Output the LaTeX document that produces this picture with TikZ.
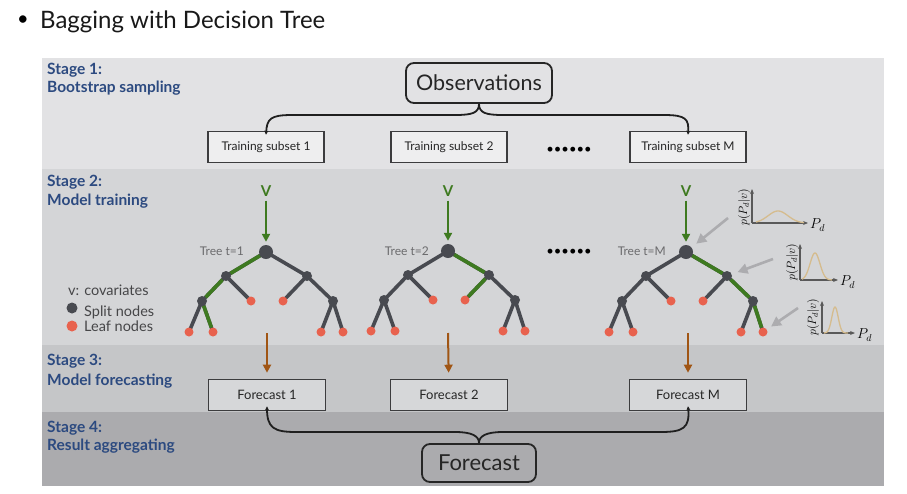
\documentclass[tikz,border=0pt]{standalone}
\usepackage{fontspec}
\setmainfont{Lato}
\usetikzlibrary{arrows.meta,calc}
\pgfdeclarelayer{bg}
\pgfdeclarelayer{edges}
\pgfsetlayers{bg,edges,main}
\definecolor{bandA}{RGB}{226,226,228}
\definecolor{bandB}{RGB}{212,213,215}
\definecolor{bandC}{RGB}{197,198,200}
\definecolor{bandD}{RGB}{171,171,174}
\definecolor{stageblue}{RGB}{44,74,128}
\definecolor{boxline}{RGB}{60,60,62}
\definecolor{treegray}{RGB}{72,74,80}
\definecolor{leafred}{RGB}{232,98,78}
\definecolor{greenc}{RGB}{62,122,32}
\definecolor{brownc}{RGB}{160,85,20}
\definecolor{arrowgray}{RGB}{172,172,175}
\definecolor{curvetan}{RGB}{213,188,142}
\definecolor{textgray}{RGB}{70,70,72}
\newcommand{\mktree}[3]{%
  \node[rootn]  (#1r)   at (#2,#3) {};
  \node[splitn] (#1L)   at ({#2-40},{#3+24}) {};
  \node[splitn] (#1R)   at ({#2+41},{#3+24}) {};
  \node[splitn] (#1LL)  at ({#2-64},{#3+49}) {};
  \node[leafn]  (#1LR)  at ({#2-15},{#3+49}) {};
  \node[leafn]  (#1RL)  at ({#2+17},{#3+49}) {};
  \node[splitn] (#1RR)  at ({#2+67},{#3+49}) {};
  \node[leafn]  (#1LLa) at ({#2-77},{#3+80}) {};
  \node[leafn]  (#1LLb) at ({#2-53},{#3+80}) {};
  \node[leafn]  (#1RRa) at ({#2+55},{#3+80}) {};
  \node[leafn]  (#1RRb) at ({#2+77},{#3+80}) {};
  \begin{pgfonlayer}{edges}
  \foreach \a/\b in {r/L,r/R,L/LL,L/LR,R/RL,R/RR,LL/LLa,LL/LLb,RR/RRa,RR/RRb}
    \draw[edge] (#1\a.center) -- (#1\b.center);
  \end{pgfonlayer}
}
\begin{document}
\begin{tikzpicture}[x=1pt,y=-1pt,
  stagelbl/.style={anchor=base west,text=stageblue,font=\bfseries\fontsize{15.5}{18}\selectfont,inner sep=0},
  subbox/.style={draw=boxline,line width=1.6,fill=bandA!60!white,minimum width=116,minimum height=31,inner sep=0,font=\fontsize{12}{13}\selectfont,text=black!85},
  fcbox/.style={draw=boxline,line width=1.6,fill=bandC!70!white,minimum width=117,minimum height=31,inner sep=0,font=\fontsize{13}{14}\selectfont,text=black!85},
  roundbox/.style={draw=black!85,line width=1.8,rounded corners=8,inner sep=0,text=black!85},
  brace/.style={draw=black!88,line width=1.8},
  rootn/.style={circle,fill=treegray,minimum size=14,inner sep=0},
  splitn/.style={circle,fill=treegray,minimum size=10,inner sep=0},
  leafn/.style={circle,fill=leafred,minimum size=9,inner sep=0},
  edge/.style={draw=treegray,line width=3.6,line cap=round},
  gedge/.style={draw=greenc,line width=3.6},
  varlbl/.style={text=greenc,font=\bfseries\fontsize{15}{16}\selectfont,inner sep=0},
  garrow/.style={draw=greenc,line width=2,-{Triangle[length=8,width=8]}},
  barrow/.style={draw=brownc,line width=2,-{Triangle[length=8,width=8]}},
  grarrow/.style={draw=arrowgray,line width=2.6,-{Triangle[length=10,width=10]}},
  treelbl/.style={anchor=east,text=textgray!80,font=\fontsize{12}{14}\selectfont,inner sep=0},
  legtxt/.style={anchor=base west,text=textgray,font=\fontsize{14.5}{16}\selectfont,inner sep=0},
  axis/.style={draw=black!65,line width=1.1,-{Stealth[length=5,width=4]}},
  dens/.style={draw=curvetan,line width=1.3},
  pdlbl/.style={anchor=west,inner sep=0,font=\fontsize{14}{16}\selectfont},
  pylbl/.style={rotate=90,inner sep=0,font=\fontsize{11.5}{13}\selectfont},
  dots/.style={font=\fontsize{13}{14}\selectfont,inner sep=0}
]
\useasboundingbox (0,0) rectangle (907,493);
\begin{pgfonlayer}{bg}
\fill[white] (0,0) rectangle (907,493);
\fill[bandA] (42,58) rectangle (884,169);
\fill[bandB] (42,169) rectangle (884,345);
\fill[bandC] (42,345) rectangle (884,412);
\fill[bandD] (42,412) rectangle (884,486);
\end{pgfonlayer}

% title
\node[inner sep=0,font=\fontsize{20}{22}\selectfont] (bul) at (23,21) {•};
\node[anchor=base west,inner sep=0,font=\fontsize{24}{26}\selectfont,text=black!90] (title) at (40,28) {Bagging with Decision Tree};

% stage labels
\node[stagelbl] (s1a) at (47,74) {Stage 1:};
\node[stagelbl] (s1b) at (47,92) {Bootstrap sampling};
\node[stagelbl] (s2a) at (47,186) {Stage 2:};
\node[stagelbl] (s2b) at (47,205) {Model training};
\node[stagelbl] (s3a) at (47,365) {Stage 3:};
\node[stagelbl] (s3b) at (47,385) {Model forecasting};
\node[stagelbl] (s4a) at (47,432) {Stage 4:};
\node[stagelbl] (s4b) at (47,450) {Result aggregating};

% stage 1
\node[roundbox,minimum width=146,minimum height=40,font=\fontsize{21.5}{24}\selectfont] (obs) at (479,83) {Observations};
\node[subbox] (ts1) at (266,147) {Training subset 1};
\node[subbox] (ts2) at (449,147) {Training subset 2};
\node[subbox] (tsM) at (688,147) {Training subset M};
\node[dots] (dots1) at (569,150) {••••••};
\draw[brace,-{Stealth[length=4,width=4]}] (obs.south) .. controls (479,113) and (472,115) .. (455,115) -- (292,115) .. controls (270,115) and (267,119) .. ([yshift=-4]ts1.north);
\draw[brace,-{Stealth[length=4,width=4]}] (obs.south) .. controls (479,113) and (486,115) .. (503,115) -- (664,115) .. controls (686,115) and (689,119) .. ([yshift=-4]tsM.north);

% stage 2 trees
\mktree{a}{266}{252}
\mktree{b}{448}{251}
\mktree{c}{686}{252}
\draw[gedge] (ar) -- (aL); \draw[gedge] (aL) -- (aLL); \draw[gedge] (aLL) -- (aLLb);
\draw[gedge] (br) -- (bR); \draw[gedge] (bR) -- (bRL);
\draw[gedge] (cr) -- (cR); \draw[gedge] (cR) -- (cRR); \draw[gedge] (cRR) -- (cRRb);

\node[varlbl] (va) at (266,191) {V};
\node[varlbl] (vb) at (448,191) {V};
\node[varlbl] (vc) at (686,191) {V};
\draw[garrow,shorten <=4,shorten >=3] (va) -- (ar);
\draw[garrow,shorten <=4,shorten >=3] (vb) -- (br);
\draw[garrow,shorten <=4,shorten >=3] (vc) -- (cr);

\node[treelbl] (la) at (244,251) {Tree t=1};
\node[treelbl] (lb) at (429,251) {Tree t=2};
\node[treelbl] (lc) at (666,251) {Tree t=M};
\node[dots] (dots2) at (569,252) {••••••};

% legend
\node[legtxt] (lg1) at (68,295) {v: covariates};
\node[splitn,minimum size=11] (lgs) at (72,308) {};
\node[legtxt] (lg2) at (84,316) {Split nodes};
\node[leafn,minimum size=11] (lgl) at (72,326) {};
\node[legtxt] (lg3) at (84,331) {Leaf nodes};

% density plots
\draw[axis] (752,223) -- (752,189);
\draw[axis] (752,223) -- (808,223);
\draw[dens] plot[domain=756:804,samples=60,smooth] (\x,{223-12*exp(-((\x-778)/14)^2)});
\node[pdlbl] (pd1) at (810,225) {$P_d$};
\node[pylbl] (py1) at (744,207) {$p(P_d|v)$};
\coordinate (g1) at (728,218);

\draw[axis] (800,280) -- (800,244);
\draw[axis] (800,280) -- (838,280);
\draw[dens] plot[domain=802:832,samples=60,smooth] (\x,{280-27*exp(-((\x-815)/7)^2)});
\node[pdlbl] (pd2) at (840,282) {$P_d$};
\node[pylbl] (py2) at (792,262) {$p(P_d|v)$};
\coordinate (g2) at (773,259);

\draw[axis] (822,333) -- (822,301);
\draw[axis] (822,333) -- (855,333);
\draw[dens] plot[domain=824:848,samples=60,smooth] (\x,{333-26*exp(-((\x-835)/4.5)^2)});
\node[pdlbl] (pd3) at (857,335) {$P_d$};
\node[pylbl] (py3) at (813,317) {$p(P_d|v)$};
\coordinate (g3) at (798,308);

\draw[grarrow,shorten >=6] (g1) -- (cr);
\draw[grarrow,shorten >=6] (g2) -- (cR);
\draw[grarrow,shorten >=5] (g3) -- (cRRb);

% stage 3
\node[fcbox] (fc1) at (267,395) {Forecast 1};
\node[fcbox] (fc2) at (449,395) {Forecast 2};
\node[fcbox] (fcM) at (688,395) {Forecast M};
\coordinate (b1) at (267,333);
\coordinate (b2) at (448,333);
\coordinate (bM) at (688,333);
\draw[barrow,shorten >=6] (b1) -- (fc1);
\draw[barrow,shorten >=6] (b2) -- (fc2);
\draw[barrow,shorten >=6] (bM) -- (fcM);

% stage 4
\node[roundbox,minimum width=114,minimum height=38,font=\fontsize{22}{24}\selectfont] (fin) at (479,463) {Forecast};
\draw[brace,{Stealth[length=4,width=4]}-] ([yshift=5]fc1.south) .. controls (267,428) and (274,432) .. (296,432) -- (455,432) .. controls (472,432) and (479,436) .. (fin.north);
\draw[brace,{Stealth[length=4,width=4]}-] ([yshift=5]fcM.south) .. controls (690,428) and (683,432) .. (661,432) -- (503,432) .. controls (486,432) and (479,436) .. (fin.north);
\end{tikzpicture}
\end{document}
